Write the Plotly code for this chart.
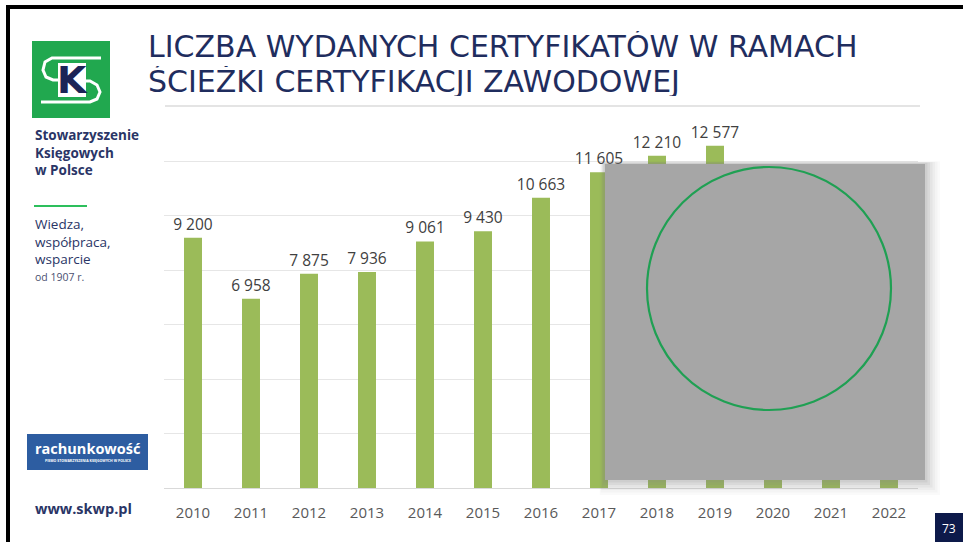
import plotly.graph_objects as go

# Number of certificates issued per year
years = ["2010", "2011", "2012", "2013", "2014", "2015", "2016",
         "2017", "2018", "2019", "2020", "2021", "2022"]
certificates = [9200, 6958, 7875, 7936, 9061, 9430, 10663,
                11605, 12210, 12577, 10100, 10500, 10700]
labels = [f"{v:,}".replace(",", " ") for v in certificates]

W, H = 963, 542
PL, PR, PT, PB = 164, 918, 107, 488  # plot area in pixels


def px(x):
    return (x - PL) / (PR - PL)


def py(y):
    return (PB - y) / (PB - PT)


NAVY = "#1c2b5a"

fig = go.Figure(go.Bar(
    x=years, y=certificates, width=0.31,
    marker=dict(color="#9bbb59", line=dict(width=0)),
    text=labels, textposition="outside", cliponaxis=False,
    constraintext="none",
    textfont=dict(family="Open Sans", size=15.5, color="#404040"),
    hoverinfo="skip",
))

shapes = []
# slide frame (top and left)
shapes.append(dict(type="rect", xref="paper", yref="paper",
                   x0=px(6), x1=px(W + 5), y0=py(5), y1=py(9),
                   fillcolor="black", line=dict(width=0), layer="above"))
shapes.append(dict(type="rect", xref="paper", yref="paper",
                   x0=px(6), x1=px(10), y0=py(5), y1=py(H + 5),
                   fillcolor="black", line=dict(width=0), layer="above"))

# rule under the heading
shapes.append(dict(type="line", xref="paper", yref="paper",
                   x0=px(165), x1=px(920), y0=py(106), y1=py(106),
                   line=dict(color="#e4e4e4", width=2), layer="below"))

# logo
shapes.append(dict(type="rect", xref="paper", yref="paper",
                   x0=px(32), x1=px(110), y0=py(41), y1=py(118),
                   fillcolor="#21a84f", line=dict(width=0), layer="above"))


def pth(points):
    return "M " + " L ".join(f"{px(a):.5f},{py(b):.5f}" for a, b in points)


shapes.append(dict(type="path", xref="paper", yref="paper",
                   path=pth([(101, 58), (52, 58), (45, 62), (43, 70), (46, 77), (53, 80), (60, 80)]),
                   line=dict(color="white", width=3), layer="above"))
shapes.append(dict(type="path", xref="paper", yref="paper",
                   path=pth([(84, 81), (90, 81), (97, 85), (100, 92), (97, 99), (90, 102), (41, 102)]),
                   line=dict(color="white", width=3), layer="above"))
shapes.append(dict(type="rect", xref="paper", yref="paper",
                   x0=px(58), x1=px(86), y0=py(63), y1=py(97),
                   fillcolor="white", line=dict(width=0), layer="above"))

# green divider on the left
shapes.append(dict(type="line", xref="paper", yref="paper",
                   x0=px(34), x1=px(87), y0=py(206), y1=py(206),
                   line=dict(color="#2dbf5c", width=2), layer="above"))

# magazine badge
shapes.append(dict(type="rect", xref="paper", yref="paper",
                   x0=px(27), x1=px(148), y0=py(434), y1=py(470),
                   fillcolor="#2d5da1", line=dict(width=0), layer="above"))

# page number box
shapes.append(dict(type="rect", xref="paper", yref="paper",
                   x0=px(935), x1=px(W + 5), y0=py(513), y1=py(H + 5),
                   fillcolor="#0d1a4a", line=dict(width=0), layer="above"))

# overlay panel with soft shadow
for i, op in enumerate([0.04, 0.05, 0.06, 0.08, 0.10, 0.12]):
    g = 14 - i * 2.5
    shapes.append(dict(type="rect", xref="paper", yref="paper",
                       x0=px(604 - g * 0.3), x1=px(926 + g), y0=py(163 - g * 0.1), y1=py(481 + g),
                       fillcolor="#808080", opacity=op, line=dict(width=0), layer="above"))
shapes.append(dict(type="rect", xref="paper", yref="paper",
                   x0=px(605), x1=px(925), y0=py(164), y1=py(480),
                   fillcolor="#a6a6a6", line=dict(width=0), layer="above"))
shapes.append(dict(type="circle", xref="paper", yref="paper",
                   x0=px(647), x1=px(891), y0=py(167), y1=py(410),
                   line=dict(color="#1fa053", width=2.2), layer="above"))

ann = []


def text(x, y, s, size, color=NAVY, family="Open Sans", xa="left", ya="middle", h=None):
    a = dict(xref="paper", yref="paper", x=px(x), y=py(y), text=s,
             showarrow=False, xanchor=xa, yanchor=ya, align="left",
             font=dict(family=family, size=size, color=color))
    if h is not None:
        a["height"] = h
    ann.append(a)


text(146, 46, "LICZBA WYDANYCH CERTYFIKATÓW W RAMACH", 30, color="#1f2d5e",
     family="DejaVu Sans", h=30)
text(146, 81, "ŚCIEŻKI CERTYFIKACJI ZAWODOWEJ", 30, color="#1f2d5e",
     family="DejaVu Sans", h=30)

text(72, 80, "<b>K</b>", 38, color="#1c2457", family="DejaVu Sans", xa="center")

text(33, 152, "<b>Stowarzyszenie<br>Księgowych<br>w Polsce</b>", 13.5, color="#2a3566")
text(33, 241, "Wiedza,<br>współpraca,<br>wsparcie", 13.5, color="#2a3566")
text(33, 277, "od 1907 r.", 10.5, color="#4a5070")
text(87.5, 448, "<b>rachunkowość</b>", 14.5, color="white", xa="center")
text(87.5, 460, "<b>PISMO STOWARZYSZENIA KSIĘGOWYCH W POLSCE</b>", 3.5, color="white", xa="center")
text(33, 509, "<b>www.skwp.pl</b>", 14.5, color="#2a3566")
text(949, 528, "73", 12, color="white", xa="center")

fig.update_layout(
    width=W, height=H,
    margin=dict(l=PL, r=W - PR, t=PT, b=H - PB),
    paper_bgcolor="white", plot_bgcolor="white",
    showlegend=False, bargap=0.69,
    shapes=shapes, annotations=ann,
    xaxis=dict(type="category", range=[-0.5, 12.5], showgrid=False,
               showline=True, linecolor="#d9d9d9", linewidth=1,
               ticks="", ticklabelstandoff=11,
               tickfont=dict(family="Open Sans", size=15, color="#595959")),
    yaxis=dict(range=[0, 14000], dtick=2000, showticklabels=False,
               showgrid=True, gridcolor="#e6e6e6", gridwidth=1,
               zeroline=False, showline=False, ticks=""),
)

fig.write_html("out.html")
